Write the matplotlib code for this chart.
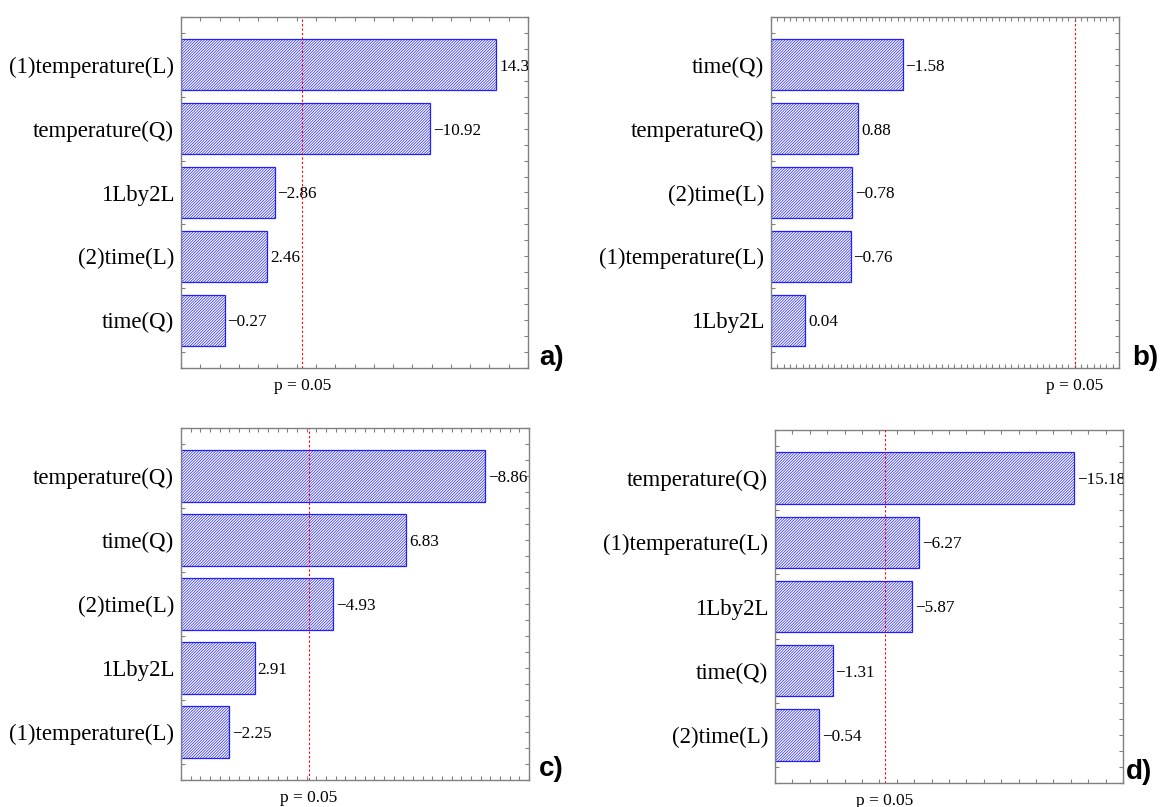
import numpy as np
import matplotlib.pyplot as plt
from matplotlib.ticker import MultipleLocator

plt.rcParams['font.family'] = ['Liberation Serif', 'DejaVu Serif']
plt.rcParams['hatch.color'] = '#4444ff'
plt.rcParams['hatch.linewidth'] = 0.5

T_CRIT = 4.30  # t value for p = 0.05

# panel a
names_a = ["(1)temperature(L)", "temperature(Q)", "1Lby2L", "(2)time(L)", "time(Q)"]
effects_a = [14.36, -10.92, -2.86, 2.46, -0.27]
# panel b
names_b = ["time(Q)", "temperatureQ)", "(2)time(L)", "(1)temperature(L)", "1Lby2L"]
effects_b = [-1.58, 0.88, -0.78, -0.76, 0.04]
# panel c
names_c = ["temperature(Q)", "time(Q)", "(2)time(L)", "1Lby2L", "(1)temperature(L)"]
effects_c = [-8.86, 6.83, -4.93, 2.91, -2.25]
# panel d
names_d = ["temperature(Q)", "(1)temperature(L)", "1Lby2L", "time(Q)", "(2)time(L)"]
effects_d = [-15.18, -6.27, -5.87, -1.31, -0.54]

W, H = 1161, 807
fig = plt.figure(figsize=(W / 100, H / 100), dpi=100)

panels = [
    # names, effects, xlim, x tick step, (left, top, right, bottom) in px, letter, letter pos px
    (names_a, effects_a, (-2, 16), 1.0, (181, 17, 528, 368), "a)", (539, 365)),
    (names_b, effects_b, (-0.5, 5), 0.1, (771, 17, 1119, 368), "b)", (1132, 365)),
    (names_c, effects_c, (1, 10), 0.25, (181, 428, 529, 780), "c)", (539, 776)),
    (names_d, effects_d, (-2, 18), 1.0, (775, 430, 1123, 783), "d)", (1126, 779)),
]

for names, effects, xlim, step, box, letter, lpos in panels:
    l, t, r, b = box
    ax = fig.add_axes([l / W, 1 - b / H, (r - l) / W, (b - t) / H])
    y = np.arange(1, len(names) + 1)
    vals = np.abs(effects)
    ax.barh(y, vals - xlim[0], left=xlim[0], height=0.8, color='white',
            edgecolor='#2020ff', hatch='/' * 12, linewidth=0.9, zorder=2)
    for yi, v, e in zip(y, vals, effects):
        txt = ("\u2212%.2f" % abs(e)) if e < 0 else ("%.2f" % e)
        ax.text(v + (xlim[1] - xlim[0]) * 0.008, yi, txt, fontsize=12.3,
                va='center_baseline', ha='left', clip_on=True, zorder=3)
    ax.axvline(T_CRIT, color='red', linestyle=(0, (2, 2)), linewidth=0.8, zorder=3)
    ax.set_xlim(*xlim)
    ax.set_ylim(len(names) + 0.75, 0.25)

    ax.set_yticks(y)
    ax.set_yticklabels(names, fontsize=16.5)
    ax.yaxis.set_minor_locator(MultipleLocator(0.25))
    ax.xaxis.set_major_locator(MultipleLocator(step))
    ax.set_xticklabels([])
    ax.tick_params(axis='both', which='both', direction='in', length=3,
                   width=0.8, color='#808080', top=True, right=True, pad=5)
    for sp in ax.spines.values():
        sp.set_color('#808080')
        sp.set_linewidth(1.0)

    # p = 0.05 label under the critical line
    ax.text(T_CRIT, -0.028, "p = 0.05", transform=ax.get_xaxis_transform(),
            ha='center', va='top', fontsize=12.5)

    fig.text(lpos[0] / W, 1 - lpos[1] / H, letter, fontsize=20, fontweight='bold',
             family='Liberation Sans', ha='left', va='baseline')

fig.savefig("out.png", dpi=100)
